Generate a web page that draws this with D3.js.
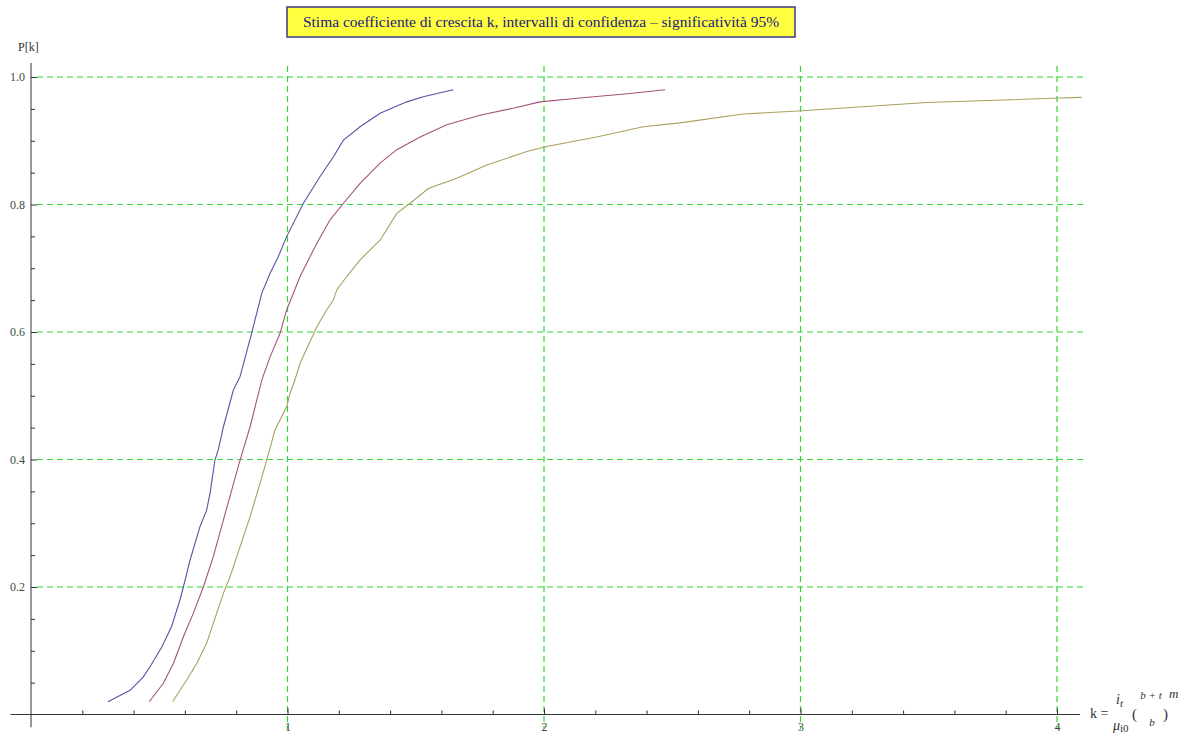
<!DOCTYPE html>
<html>
<head>
<meta charset="utf-8">
<script src="https://cdn.jsdelivr.net/npm/d3@7"></script>
<style>
  body { margin: 0; background: #fff; }
  svg text { font-family: "Liberation Serif", "Times New Roman", serif; }
  .grid line { stroke: #33d433; stroke-dasharray: 6,4; stroke-width: 1.2; }
  .axis path { display: none; }
  .axis line { stroke: #333; }
  .axis text { fill: #3c4f3c; font-size: 12px; font-family: "Liberation Serif", "Times New Roman", serif; }
  .curve { fill: none; stroke-width: 1.1; }
</style>
</head>
<body>
<svg id="chart" width="1191" height="736"></svg>
<script>
// curve readings (k, P[k])
var lowX  = [0.30,0.386,0.438,0.464,0.51,0.548,0.581,0.594,0.62,0.659,0.685,0.698,0.717,0.73,0.75,0.789,0.815,0.86,0.90,0.932,0.964,0.997,1.062,1.127,1.179,1.218,1.283,1.361,1.465,1.529,1.646];
var lowY  = [0.02,0.038,0.059,0.075,0.106,0.138,0.18,0.20,0.242,0.295,0.321,0.347,0.399,0.415,0.451,0.509,0.53,0.598,0.661,0.692,0.718,0.75,0.802,0.844,0.875,0.901,0.922,0.943,0.961,0.969,0.98];

var midX  = [0.461,0.516,0.555,0.594,0.633,0.672,0.711,0.75,0.815,0.854,0.90,0.932,0.971,0.997,1.049,1.114,1.166,1.218,1.283,1.361,1.426,1.517,1.621,1.75,1.88,1.984,2.14,2.335,2.472];
var midY  = [0.02,0.049,0.08,0.122,0.159,0.20,0.248,0.305,0.399,0.451,0.525,0.561,0.598,0.635,0.687,0.739,0.776,0.802,0.833,0.865,0.886,0.906,0.925,0.94,0.951,0.961,0.967,0.974,0.98];

var highX = [0.552,0.607,0.646,0.685,0.724,0.75,0.776,0.815,0.854,0.893,0.919,0.951,0.977,0.997,1.01,1.029,1.049,1.114,1.153,1.179,1.192,1.231,1.283,1.335,1.361,1.426,1.478,1.549,1.66,1.777,1.933,2.01,2.205,2.387,2.53,2.777,3.005,3.492,4.01,4.096];
var highY = [0.02,0.054,0.08,0.112,0.159,0.19,0.216,0.263,0.31,0.363,0.399,0.446,0.467,0.483,0.504,0.525,0.551,0.608,0.635,0.65,0.666,0.687,0.713,0.734,0.744,0.786,0.802,0.825,0.841,0.862,0.883,0.891,0.906,0.922,0.928,0.942,0.947,0.96,0.967,0.968];

var xMajor = [1, 2, 3, 4];
var yMajor = [0.2, 0.4, 0.6, 0.8, 1.0];
var xMinor = [0.2,0.4,0.6,0.8,1.2,1.4,1.6,1.8,2.2,2.4,2.6,2.8,3.2,3.4,3.6,3.8];
var yMinor = [0.05,0.1,0.15,0.25,0.3,0.35,0.45,0.5,0.55,0.65,0.7,0.75,0.85,0.9,0.95];

var title = "Stima coefficiente di crescita k, intervalli di confidenza \u2013 significativit\u00e0 95%";

var svg = d3.select("#chart");

var x = d3.scaleLinear().domain([0, 4]).range([31, 1057]);
var y = d3.scaleLinear().domain([0, 1]).range([714.5, 77]);

var xLo = -0.08, xHi = 4.1, yLo = -0.02, yHi = 1.022;

// grid
var grid = svg.append("g").attr("class", "grid");
grid.selectAll(".gv").data(xMajor).enter().append("line")
  .attr("x1", d => x(d)).attr("x2", d => x(d))
  .attr("y1", y(yHi) + 3).attr("y2", y(yLo) + 2);
grid.selectAll(".gh").data(yMajor).enter().append("line")
  .attr("x1", x(0) + 6).attr("x2", x(xHi) + 3)
  .attr("y1", d => y(d)).attr("y2", d => y(d));

// axis lines
svg.append("line").attr("x1", x(xLo)).attr("x2", x(4.09))
  .attr("y1", y(0)).attr("y2", y(0)).attr("stroke", "#333");
svg.append("line").attr("x1", x(0)).attr("x2", x(0))
  .attr("y1", y(yHi)).attr("y2", y(yLo)).attr("stroke", "#333");

// ticks
svg.append("g").attr("class", "axis")
  .attr("transform", "translate(0," + y(0) + ")")
  .call(d3.axisBottom(x).tickValues(xMajor).tickSizeInner(-6).tickPadding(8).tickFormat(d3.format("d")));
svg.append("g").attr("class", "axis")
  .attr("transform", "translate(0," + y(0) + ")")
  .call(d3.axisBottom(x).tickValues(xMinor).tickSizeInner(-4).tickFormat(""));
svg.append("g").attr("class", "axis")
  .attr("transform", "translate(" + x(0) + ",0)")
  .call(d3.axisLeft(y).tickValues(yMajor).tickSizeInner(-6).tickPadding(6).tickFormat(d3.format(".1f")));
svg.append("g").attr("class", "axis")
  .attr("transform", "translate(" + x(0) + ",0)")
  .call(d3.axisLeft(y).tickValues(yMinor).tickSizeInner(-4).tickFormat(""));

// curves
var line = d3.line().x(d => x(d[0])).y(d => y(d[1]));
var series = [
  {xs: lowX,  ys: lowY,  color: "#5454a6"},
  {xs: midX,  ys: midY,  color: "#a6527e"},
  {xs: highX, ys: highY, color: "#aaa05c"}
];
series.forEach(function(s) {
  svg.append("path")
    .datum(d3.zip(s.xs, s.ys))
    .attr("class", "curve")
    .attr("stroke", s.color)
    .attr("d", line);
});

// title box
svg.append("rect").attr("x", 287).attr("y", 7).attr("width", 508).attr("height", 30)
  .attr("fill", "#ffff40").attr("stroke", "#3a3a86").attr("stroke-width", 1.5);
svg.append("text").attr("x", 541).attr("y", 27).attr("text-anchor", "middle")
  .attr("font-size", 15.5).attr("fill", "#20207a").text(title);

// axis labels
svg.append("text").attr("x", 18).attr("y", 51).attr("font-size", 12).attr("fill", "#333").text("P[k]");

var lab = svg.append("g").attr("fill", "#333").attr("font-size", 14);
lab.append("text").attr("x", 1090).attr("y", 718).text("k =");
var it = lab.append("text").attr("x", 1116).attr("y", 704).attr("font-style", "italic");
it.append("tspan").text("i");
it.append("tspan").attr("font-size", 11).attr("dy", 3).text("t");
var mu = lab.append("text").attr("x", 1113).attr("y", 730).attr("font-style", "italic");
mu.append("tspan").text("\u03bc");
mu.append("tspan").attr("font-size", 11).attr("dy", 2).attr("font-style", "normal").text("i0");
lab.append("text").attr("x", 1132).attr("y", 719).attr("font-size", 15).text("(");
lab.append("text").attr("x", 1151).attr("y", 699).attr("font-size", 11).attr("font-style", "italic")
  .attr("text-anchor", "middle").text("b + t");
lab.append("text").attr("x", 1152).attr("y", 726).attr("font-size", 11).attr("font-style", "italic")
  .attr("text-anchor", "middle").text("b");
lab.append("text").attr("x", 1163).attr("y", 719).attr("font-size", 15).text(")");
lab.append("text").attr("x", 1169).attr("y", 698).attr("font-size", 13).attr("font-style", "italic").text("m");
</script>
</body>
</html>
